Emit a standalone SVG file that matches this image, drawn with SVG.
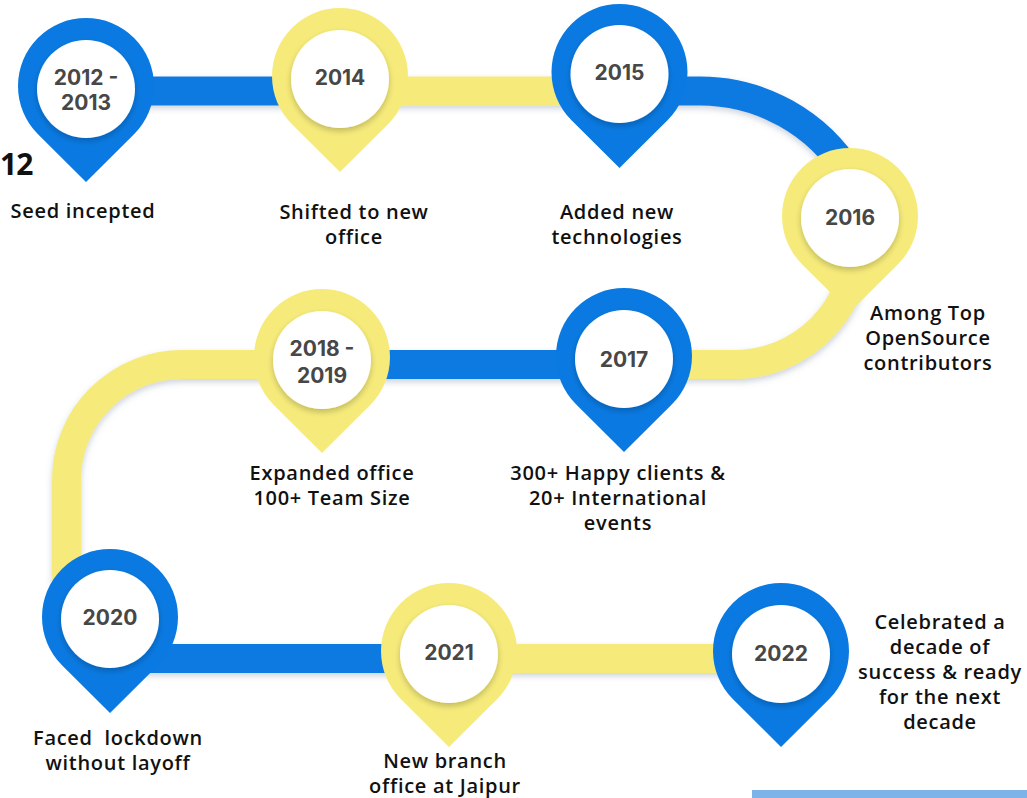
<svg xmlns="http://www.w3.org/2000/svg" xmlns:xlink="http://www.w3.org/1999/xlink" width="1027" height="798" viewBox="0 0 1027 798">
<style>
.band{fill:none;stroke-width:29;stroke-linecap:butt}
.b{stroke:#0a7ae2}
.y{stroke:#f6eb7a}
.pb{fill:#0a7ae2}
.py{fill:#f6eb7a}
.inner{fill:#ffffff}
.yr{font-family:Inter,"Open Sans","Liberation Sans",sans-serif;font-weight:700;font-size:21px;fill:#474747;text-anchor:middle}
.lb{font-family:"Open Sans","Liberation Sans",sans-serif;font-weight:600;font-size:20px;letter-spacing:0.7px;fill:#111111;text-anchor:middle}
</style>
<defs>
<filter id="sh" x="-10%" y="-10%" width="120%" height="130%">
<feDropShadow dx="0" dy="3" stdDeviation="3" flood-color="#6f7f98" flood-opacity="0.35"/>
</filter>
<filter id="ish" x="-20%" y="-20%" width="140%" height="150%">
<feDropShadow dx="0" dy="3" stdDeviation="3" flood-color="#000000" flood-opacity="0.22"/>
</filter>
<path id="pin" d="M0 96 L-48 48.2 A68 68 0 1 1 48 48.2 Z"/>
</defs>
<rect width="1027" height="798" fill="#ffffff"/>

<g id="connectors" filter="url(#sh)">
<path class="band b" d="M86 91 H340"/>
<path class="band y" d="M340 91 H619"/>
<path class="band b" d="M619 91 H700 A176 176 0 0 1 850 175 L850 216"/>
<path class="band y" d="M857 216 V241.5 A122.5 122.5 0 0 1 735 364.5 H624"/>
<path class="band b" d="M624 364.5 H322"/>
<path class="band y" d="M322 364.5 H182 A115.5 115.5 0 0 0 66.5 480 V573 A85.5 85.5 0 0 0 91.5 633.5"/>
<path class="band b" d="M91.5 633.5 A85.5 85.5 0 0 0 152 658.5 H449"/>
<path class="band y" d="M449 658.5 H781"/>
</g>

<g id="n2012">
<use xlink:href="#pin" href="#pin" x="86" y="86" class="pb"/>
<circle class="inner" cx="86" cy="89" r="49" filter="url(#ish)"/>
<text class="yr" x="86" y="84.5">2012 -</text>
<text class="yr" x="86" y="109.5">2013</text>
<text class="lb" x="83" y="218">Seed incepted</text>
</g>

<g id="n2014">
<use xlink:href="#pin" href="#pin" x="340" y="76" class="py"/>
<circle class="inner" cx="340" cy="79" r="49" filter="url(#ish)"/>
<text class="yr" x="340" y="84.5">2014</text>
<text class="lb" x="354" y="219">Shifted to new</text>
<text class="lb" x="354" y="244">office</text>
</g>

<g id="n2015">
<use xlink:href="#pin" href="#pin" x="619.5" y="72" class="pb"/>
<circle class="inner" cx="619.5" cy="74" r="49" filter="url(#ish)"/>
<text class="yr" x="619.5" y="79.5">2015</text>
<text class="lb" x="617" y="219">Added new</text>
<text class="lb" x="617" y="244">technologies</text>
</g>

<g id="n2016">
<use xlink:href="#pin" href="#pin" x="850" y="216" class="py"/>
<circle class="inner" cx="850" cy="218" r="49" filter="url(#ish)"/>
<text class="yr" x="850" y="224.5">2016</text>
<text class="lb" x="928" y="320">Among Top</text>
<text class="lb" x="928" y="345">OpenSource</text>
<text class="lb" x="928" y="370">contributors</text>
</g>

<g id="n2017">
<use xlink:href="#pin" href="#pin" x="624" y="356" class="pb"/>
<circle class="inner" cx="624" cy="359" r="49" filter="url(#ish)"/>
<text class="yr" x="624" y="366.5">2017</text>
<text class="lb" x="618" y="480">300+ Happy clients &amp;</text>
<text class="lb" x="618" y="505">20+ International</text>
<text class="lb" x="618" y="530">events</text>
</g>

<g id="n2018">
<use xlink:href="#pin" href="#pin" x="322" y="357" class="py"/>
<circle class="inner" cx="322" cy="360" r="49" filter="url(#ish)"/>
<text class="yr" x="322" y="355.5">2018 -</text>
<text class="yr" x="322" y="382.5">2019</text>
<text class="lb" x="332" y="480">Expanded office</text>
<text class="lb" x="332" y="505">100+ Team Size</text>
</g>

<g id="n2020">
<use xlink:href="#pin" href="#pin" x="110" y="617" class="pb"/>
<circle class="inner" cx="110" cy="619" r="49" filter="url(#ish)"/>
<text class="yr" x="110" y="624.5">2020</text>
<text class="lb" x="118" y="745" xml:space="preserve">Faced  lockdown</text>
<text class="lb" x="118" y="770">without layoff</text>
</g>

<g id="n2021">
<use xlink:href="#pin" href="#pin" x="449" y="651" class="py"/>
<circle class="inner" cx="449" cy="654" r="49" filter="url(#ish)"/>
<text class="yr" x="449" y="659.5">2021</text>
<text class="lb" x="445" y="768">New branch</text>
<text class="lb" x="445" y="793">office at Jaipur</text>
</g>

<g id="n2022">
<use xlink:href="#pin" href="#pin" x="781" y="651" class="pb"/>
<circle class="inner" cx="781" cy="654" r="49" filter="url(#ish)"/>
<text class="yr" x="781" y="660.5">2022</text>
<text class="lb" x="940" y="629">Celebrated a</text>
<text class="lb" x="940" y="654">decade of</text>
<text class="lb" x="940" y="679">success &amp; ready</text>
<text class="lb" x="940" y="704">for the next</text>
<text class="lb" x="940" y="729">decade</text>
</g>

<text x="0" y="175" font-family="'Open Sans','Liberation Sans',sans-serif" font-weight="700" font-size="30" letter-spacing="-1" fill="#111111">12</text>
<rect x="752" y="790" width="275" height="8" fill="#7db3e8"/>
</svg>
